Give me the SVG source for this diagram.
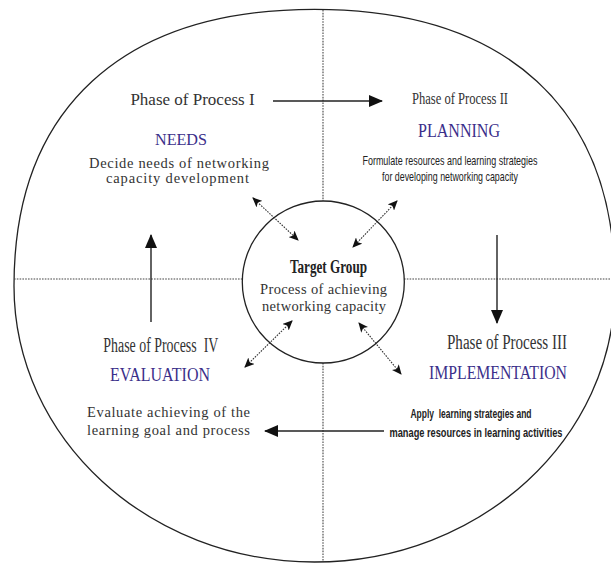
<svg xmlns="http://www.w3.org/2000/svg" width="611" height="563" viewBox="0 0 611 563">
<style>
.outline{fill:none;stroke:#222;stroke-width:1.3}
.dash{fill:none;stroke:#444;stroke-width:1.1;stroke-dasharray:1.6,1.2}
.arrow{fill:none;stroke:#222;stroke-width:1.4}
.darr{fill:none;stroke:#333;stroke-width:1.1;stroke-dasharray:1.6,1.2}
.serif{font-family:"Liberation Serif","Times New Roman",serif;fill:#333}
.sans{font-family:"Liberation Sans Narrow","Liberation Sans",Arial,sans-serif;fill:#222}
.title{font-family:"Liberation Serif","Times New Roman",serif;fill:#3b2f8a}
</style>
<defs>
<marker id="ah" markerWidth="14" markerHeight="12" refX="13" refY="6" orient="auto" markerUnits="userSpaceOnUse">
<path d="M0,0 L14,6 L0,12 Z" fill="#111"/>
</marker>
<marker id="sh" markerWidth="10" markerHeight="9" refX="9" refY="4.5" orient="auto-start-reverse" markerUnits="userSpaceOnUse">
<path d="M0,0 L10,4.5 L0,9 L2.5,4.5 Z" fill="#111"/>
</marker>
</defs>
<rect width="611" height="563" fill="#fff"/>
<g id="frame">
<path class="outline" d="M14,286 C14,108.9 122.2,9.3 314.5,9.3 C506.8,9.3 615,108.9 615,286 C615,438.4 480.4,562 314.5,562 C148.6,562 14,438.4 14,286 Z"/>
<line class="dash" x1="323" y1="10" x2="323" y2="201"/>
<line class="dash" x1="323" y1="363" x2="323" y2="562"/>
<line class="dash" x1="14" y1="279" x2="243" y2="279"/>
<line class="dash" x1="404" y1="279" x2="611" y2="279"/>
</g>
<g id="connectors">
<line class="arrow" x1="273" y1="101" x2="382" y2="101" marker-end="url(#ah)"/>
<line class="arrow" x1="497" y1="235" x2="497" y2="323" marker-end="url(#ah)"/>
<line class="arrow" x1="384" y1="431" x2="265" y2="431" marker-end="url(#ah)"/>
<line class="arrow" x1="151" y1="322" x2="151" y2="235" marker-end="url(#ah)"/>
<line class="darr" x1="253" y1="198" x2="298" y2="240" marker-start="url(#sh)" marker-end="url(#sh)"/>
<line class="darr" x1="397" y1="201" x2="353" y2="247" marker-start="url(#sh)" marker-end="url(#sh)"/>
<line class="darr" x1="292" y1="321" x2="245" y2="367" marker-start="url(#sh)" marker-end="url(#sh)"/>
<line class="darr" x1="359" y1="323" x2="401" y2="374" marker-start="url(#sh)" marker-end="url(#sh)"/>
</g>
<g id="target">
<circle class="outline" cx="323.3" cy="282" r="81"/>
<text class="serif" x="328.5" y="273" font-size="18.5" font-weight="bold" text-anchor="middle" textLength="77" lengthAdjust="spacingAndGlyphs" style="fill:#222">Target Group</text>
<text class="serif" x="323.5" y="294" font-size="14.5" text-anchor="middle" textLength="127" lengthAdjust="spacing">Process of achieving</text>
<text class="serif" x="324" y="311" font-size="14.5" text-anchor="middle" textLength="124" lengthAdjust="spacing">networking capacity</text>
</g>
<g id="phase1">
<text class="serif" x="192.5" y="105" font-size="17" text-anchor="middle">Phase of Process I</text>
<text class="title" x="181" y="145" font-size="17" text-anchor="middle" textLength="52" lengthAdjust="spacingAndGlyphs">NEEDS</text>
<text class="serif" x="179" y="168" font-size="14.5" text-anchor="middle" textLength="180" lengthAdjust="spacing">Decide needs of networking</text>
<text class="serif" x="177.5" y="183" font-size="14.5" text-anchor="middle" textLength="143" lengthAdjust="spacing">capacity development</text>
</g>
<g id="phase2">
<text class="serif" x="460" y="104" font-size="16.5" text-anchor="middle" textLength="96" lengthAdjust="spacingAndGlyphs">Phase of Process II</text>
<text class="title" x="459" y="137" font-size="18" text-anchor="middle" textLength="82" lengthAdjust="spacingAndGlyphs">PLANNING</text>
<text class="sans" x="450" y="165" font-size="13" text-anchor="middle" textLength="175" lengthAdjust="spacingAndGlyphs">Formulate resources and learning strategies</text>
<text class="sans" x="450" y="181" font-size="13" text-anchor="middle" textLength="136" lengthAdjust="spacingAndGlyphs">for developing networking capacity</text>
</g>
<g id="phase3">
<text class="serif" x="507" y="349" font-size="20" text-anchor="middle" textLength="120" lengthAdjust="spacingAndGlyphs">Phase of Process III</text>
<text class="title" x="498" y="379" font-size="18" text-anchor="middle" textLength="138" lengthAdjust="spacingAndGlyphs">IMPLEMENTATION</text>
<text class="sans" x="471" y="418" font-size="13" font-weight="bold" text-anchor="middle" textLength="121" lengthAdjust="spacingAndGlyphs" xml:space="preserve">Apply  learning strategies and</text>
<text class="sans" x="476" y="437" font-size="13" font-weight="bold" text-anchor="middle" textLength="173" lengthAdjust="spacingAndGlyphs">manage resources in learning activities</text>
</g>
<g id="phase4">
<text class="serif" x="160.8" y="352" font-size="20" text-anchor="middle" textLength="115" lengthAdjust="spacingAndGlyphs" xml:space="preserve">Phase of Process  IV</text>
<text class="title" x="160" y="381" font-size="18" text-anchor="middle" textLength="100" lengthAdjust="spacingAndGlyphs">EVALUATION</text>
<text class="serif" x="87" y="417" font-size="14.5" textLength="163" lengthAdjust="spacing">Evaluate achieving of the</text>
<text class="serif" x="87" y="435" font-size="14.5" textLength="163" lengthAdjust="spacing">learning goal and process</text>
</g>
</svg>
